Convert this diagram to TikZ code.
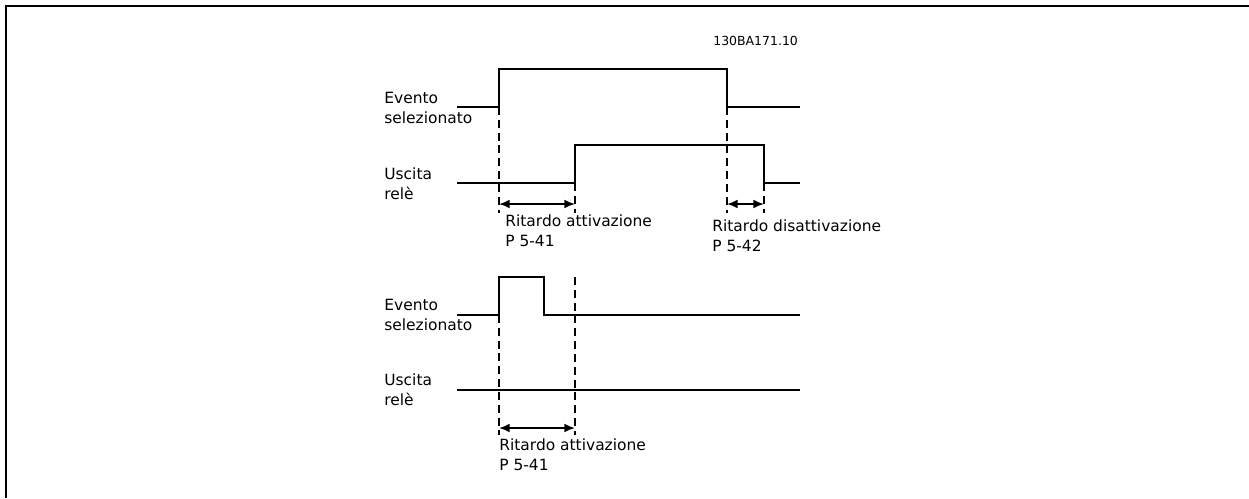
\documentclass[tikz,border=0pt]{standalone}
\usepackage{fontspec}
\setmainfont{DejaVu Sans}
\usetikzlibrary{positioning,calc,arrows.meta}
\tikzset{
	x=0.02cm, y=-0.02cm,% one unit is one pixel of the drawing, y runs downwards
	sig/.style = {line width=1pt, line join=miter}, % the signal traces
	guide/.style = {line width=0.9pt, dash pattern=on 4.5pt off 2.8pt}, % dashed time marks
	span/.style = {line width=1pt, {Latex[length=6pt,width=5pt]}-{Latex[length=6pt,width=5pt]}},
	lbl/.style = {anchor=base west, inner sep=0pt, align=left, font=\fontsize{8.8}{11.2}\selectfont}% base is the last line
}

\begin{document}
\begin{tikzpicture}
            \useasboundingbox (0,0) rectangle (1249,498);
            \draw[line width=0.6pt] (6,498) |- (1249,6);
            \node[anchor=base west, inner sep=0pt, font=\fontsize{7.1}{8.5}\selectfont] (code) at (713,45) {130BA171.10};
            % upper diagram
            \coordinate (e1s) at (457,107);
            \coordinate (e1r) at (499,107);
            \coordinate (e1up) at (727,69);
            \coordinate (e1f) at (727,107);
            \coordinate (e1e) at (800,107);
            \coordinate (u1s) at (457,183);
            \coordinate (u1r) at (575,183);
            \coordinate (u1up) at (764,145);
            \coordinate (u1f) at (764,183);
            \coordinate (u1e) at (800,183);
            \node[lbl] (ev1) at (384,123) {Evento\\selezionato};
            \node[lbl] (us1) at (384,199) {Uscita\\relè};
            \draw[sig] (e1s) -- (e1r) |- (e1up) -- (e1f) -- (e1e);
            \draw[sig] (u1s) -- (u1r) |- (u1up) -- (u1f) -- (u1e);
            \coordinate (g1) at (499,213);
            \coordinate (g2) at (575,213);
            \coordinate (g3) at (727,213);
            \coordinate (g4) at (764,213);
            \draw[guide] (e1r) -- (g1);
            \draw[guide] (u1r) -- (g2);
            \draw[guide] (e1f) -- (g3);
            \draw[guide] (u1f) -- (g4);
            \draw[span] ($(g1)+(0,-9)$) -- ($(g2)+(0,-9)$);
            \draw[span] ($(g3)+(0,-9)$) -- ($(g4)+(0,-9)$);
            \node[lbl] (on1) at (505,246) {Ritardo attivazione\\P 5-41};
            \node[lbl] (off1) at (712,251) {Ritardo disattivazione\\P 5-42};
            % lower diagram
            \coordinate (e2s) at (457,315);
            \coordinate (e2r) at (499,315);
            \coordinate (e2up) at (544,277);
            \coordinate (e2f) at (544,315);
            \coordinate (e2e) at (800,315);
            \coordinate (u2s) at (457,390);
            \coordinate (u2e) at (800,390);
            \node[lbl] (ev2) at (384,330) {Evento\\selezionato};
            \node[lbl] (us2) at (384,405) {Uscita\\relè};
            \draw[sig] (e2s) -- (e2r) |- (e2up) -- (e2f) -- (e2e);
            \draw[sig] (u2s) -- (u2e);
            \coordinate (t1) at (575,277);
            \coordinate (g5) at (499,435);
            \coordinate (g6) at (575,435);
            \draw[guide] (e2r) -- (g5);
            \draw[guide] (t1) -- (g6);
            \draw[span] ($(g5)+(0,-7)$) -- ($(g6)+(0,-7)$);
            \node[lbl] (on2) at (499,470) {Ritardo attivazione\\P 5-41};
        \end{tikzpicture}
\end{document}
